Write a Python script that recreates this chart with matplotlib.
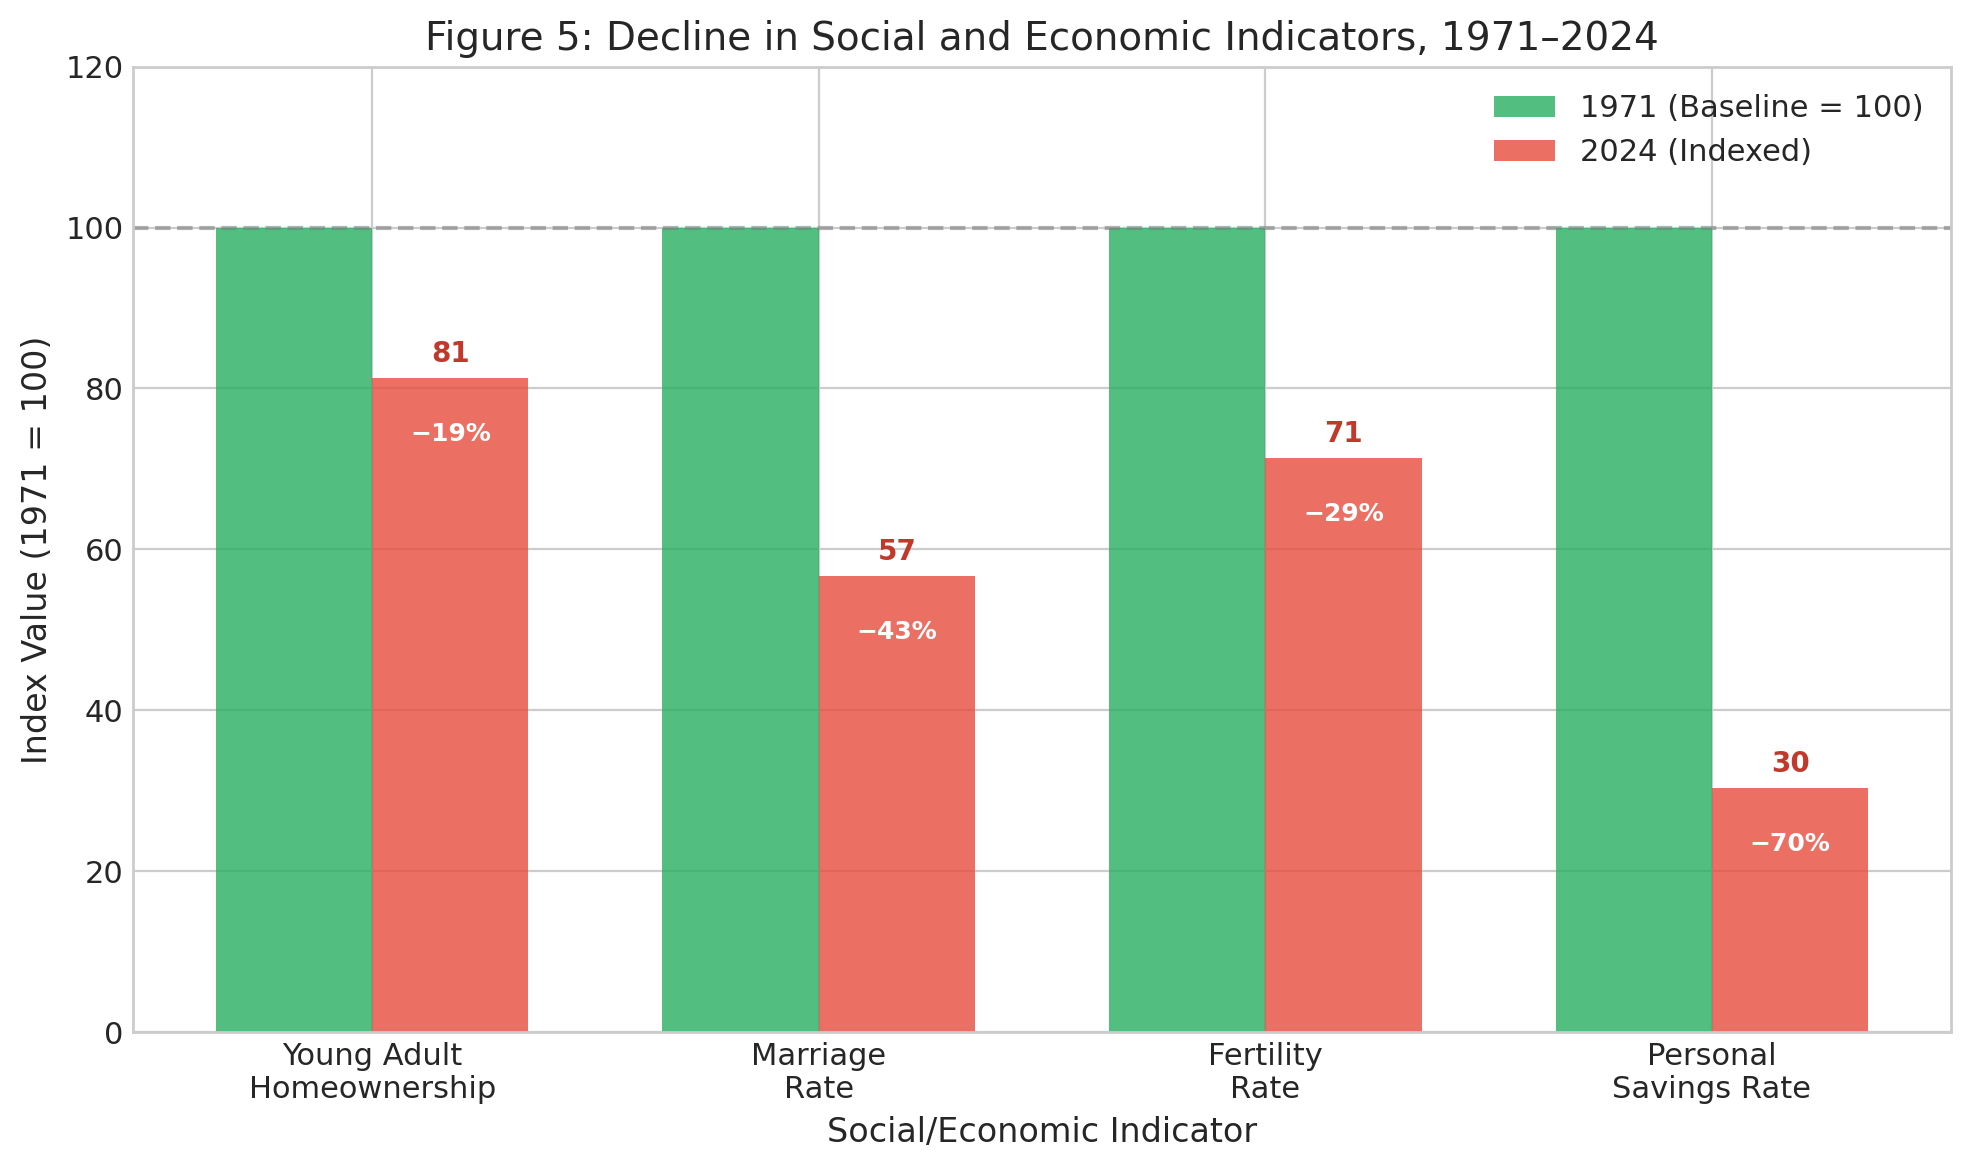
import numpy as np
import matplotlib
matplotlib.use("Agg")
import matplotlib.pyplot as plt

categories = ["Young Adult\nHomeownership", "Marriage\nRate", "Fertility\nRate", "Personal\nSavings Rate"]
baseline_1971 = [100, 100, 100, 100]
indexed_2024 = [81.3, 56.7, 71.4, 30.4]

plt.style.use("seaborn-v0_8-whitegrid")
plt.rcParams['font.family'] = ['DejaVu Sans']

fig, ax = plt.subplots(figsize=(9.855, 5.84), dpi=200)
x = np.arange(len(categories))
w = 0.35
ax.bar(x - w/2, baseline_1971, w, color="#27ae60", alpha=0.8, linewidth=0, label="1971 (Baseline = 100)")
bars = ax.bar(x + w/2, indexed_2024, w, color="#e74c3c", alpha=0.8, linewidth=0, label="2024 (Indexed)")
ax.axhline(100, color="gray", linestyle="--", linewidth=1.5, alpha=0.6)

for b, v in zip(bars, indexed_2024):
    cx = b.get_x() + b.get_width()/2
    ax.text(cx, v + 1.2, f"{v:.0f}", ha="center", va="bottom", fontsize=10, fontweight="bold", color="#c0392b")
    ax.text(cx, v - 7, f"\u2212{100 - v:.0f}%", ha="center", va="center", fontsize=9, fontweight="bold", color="white")

ax.set_xticks(x)
ax.set_xticklabels(categories, fontsize=11)
ax.tick_params(axis="y", labelsize=11)
ax.set_ylim(0, 120)
ax.set_xlabel("Social/Economic Indicator", fontsize=12)
ax.set_ylabel("Index Value (1971 = 100)", fontsize=12)
ax.set_title("Figure 5: Decline in Social and Economic Indicators, 1971\u20132024", fontsize=14)
ax.legend(fontsize=11, loc="upper right", frameon=False)
fig.subplots_adjust(left=0.0676, right=0.9898, top=0.943, bottom=0.1163)
fig.savefig("out.png", dpi=200)
